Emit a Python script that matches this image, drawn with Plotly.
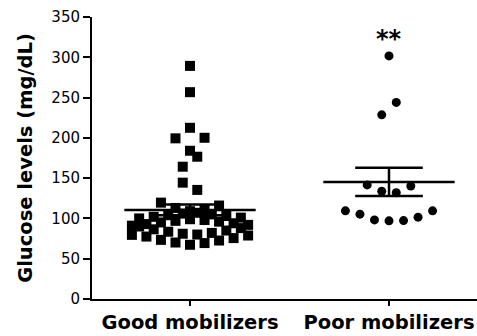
import plotly.graph_objects as go

# ---------------- data ----------------
categories = ["Good mobilizers", "Poor mobilizers"]

good_values = [67.3, 69.4, 70.1, 72.6, 73.4, 75.6, 77.5, 78.8, 79.6,
               80, 81, 82, 83.5, 85, 86.5, 88, 90,
               99, 98, 97, 96, 95, 94, 93, 92, 91,
               107, 106, 105, 104, 103, 102, 101, 100,
               109, 111, 113, 116, 119.6,
               135.4, 144.4, 176.6, 164.2, 184, 200.1, 199.4,
               212.5, 256.7, 289.3]

poor_values = [97, 97.3, 98.2, 101.6, 105.3, 109.4, 109.4,
               132, 133.8, 140.3, 141.6, 244, 228.6, 301.7]

group_means = [110.6, 145.3]
group_sems = [6.8, 17.6]

y_tick_values = [0, 50, 100, 150, 200, 250, 300, 350]
significance_label = "**"
significance_y = 323

# ---------------- layout helpers ----------------
BAND = 16.5        # height of a band of points (mg/dL)
CAPS = (9, 8)      # max points per band (alternating)
STEP = 0.073       # horizontal spacing of points (category units)
MEAN_HALF = 0.33
SEM_HALF = 0.17


def swarm_offsets(values):
    order = sorted(range(len(values)), key=lambda i: (values[i], i))
    bands = []
    i = 0
    while i < len(order):
        cap = CAPS[len(bands) % 2]
        start = values[order[i]]
        members = []
        while i < len(order) and values[order[i]] < start + BAND and len(members) < cap:
            members.append(order[i])
            i += 1
        bands.append(members)
    offsets = [0.0] * len(values)
    for members in bands:
        members = sorted(members)          # entry order inside a band
        n = len(members)
        for rank, idx in enumerate(members):
            if n % 2 == 1:
                m = (rank + 1) // 2
                k = m if rank % 2 == 1 else -m
            else:
                m = rank // 2 + 0.5
                k = m if rank % 2 == 0 else -m
            offsets[idx] = k * STEP
    return offsets


FONT = "DejaVu Sans"
fig = go.Figure()

groups = [(good_values, "square", 10), (poor_values, "circle", 9)]
for gi, (vals, sym, size) in enumerate(groups):
    offs = swarm_offsets(vals)
    fig.add_trace(go.Scatter(
        x=[gi + o for o in offs], y=vals, mode="markers",
        marker=dict(symbol=sym, size=size, color="black", line=dict(width=0)),
        showlegend=False, hoverinfo="y"))

for gi, (m, s) in enumerate(zip(group_means, group_sems)):
    fig.add_trace(go.Scatter(
        x=[gi - MEAN_HALF, gi + MEAN_HALF], y=[m, m], mode="lines",
        line=dict(color="black", width=2.5), showlegend=False, hoverinfo="skip"))
    fig.add_trace(go.Scatter(
        x=[gi - SEM_HALF, gi + SEM_HALF, None, gi, gi, None, gi - SEM_HALF, gi + SEM_HALF],
        y=[m + s, m + s, None, m + s, m - s, None, m - s, m - s], mode="lines",
        line=dict(color="black", width=2.5), showlegend=False, hoverinfo="skip"))

fig.add_annotation(x=1, y=significance_y, text=significance_label, showarrow=False,
                   xanchor="center", yanchor="middle",
                   font=dict(family=FONT, size=24, color="black", weight="bold"))

fig.update_layout(
    width=477, height=336,
    margin=dict(l=92, r=0, t=17, b=37),
    paper_bgcolor="white", plot_bgcolor="white",
    font=dict(family=FONT, color="black"),
)
fig.update_xaxes(
    range=[-0.4925, 1.4422], tickmode="array", tickvals=[0, 1], ticktext=categories,
    showline=True, linewidth=2, linecolor="black", showgrid=False, zeroline=False,
    ticks="outside", ticklen=5, tickwidth=2, tickcolor="black",
    tickfont=dict(family=FONT, size=19.5, color="black", weight="bold"),
)
fig.update_yaxes(
    range=[0, 350], tickmode="array", tickvals=y_tick_values,
    showline=True, linewidth=2, linecolor="black", showgrid=False, zeroline=False,
    ticks="outside", ticklen=7, tickwidth=2, tickcolor="black",
    tickfont=dict(family=FONT, size=15, color="black"),
    title=dict(text="Glucose levels (mg/dL)", standoff=14,
               font=dict(family=FONT, size=19.5, color="black", weight="bold")),
)

fig.write_html("out.html")
